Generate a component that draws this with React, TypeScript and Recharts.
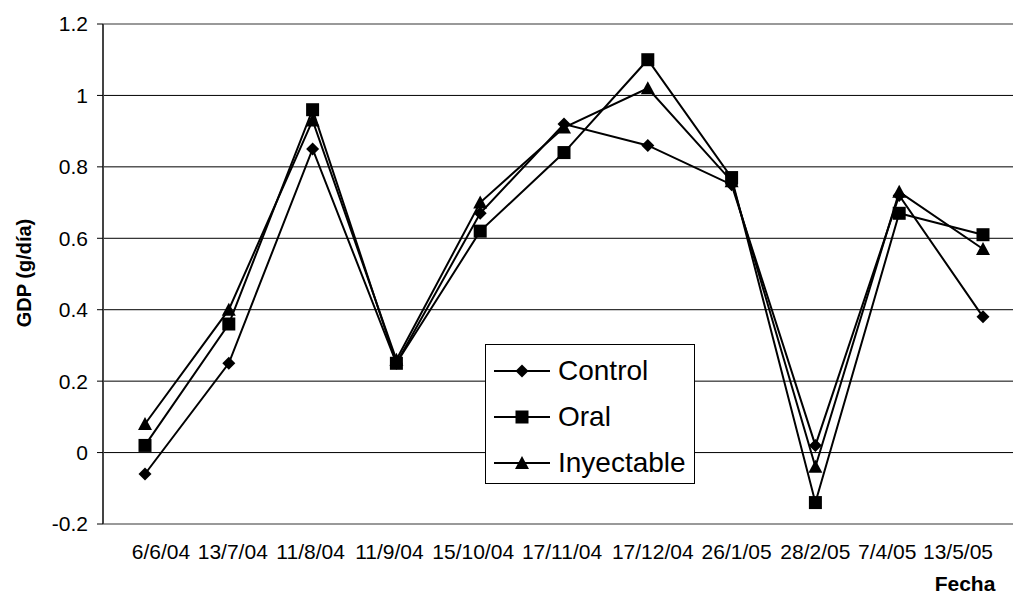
import { LineChart, Line, XAxis, YAxis, CartesianGrid, Legend, ReferenceLine, Label } from "recharts";

const fechas = [
  "6/6/04", "13/7/04", "11/8/04", "11/9/04", "15/10/04", "17/11/04",
  "17/12/04", "26/1/05", "28/2/05", "7/4/05", "13/5/05",
];
const control = [-0.06, 0.25, 0.85, 0.25, 0.67, 0.92, 0.86, 0.75, 0.02, 0.72, 0.38];
const oral = [0.02, 0.36, 0.96, 0.25, 0.62, 0.84, 1.1, 0.77, -0.14, 0.67, 0.61];
const inyectable = [0.08, 0.4, 0.93, 0.26, 0.7, 0.91, 1.02, 0.76, -0.04, 0.73, 0.57];
const yTicks = [-0.2, 0, 0.2, 0.4, 0.6, 0.8, 1, 1.2];

// Excel packed the date labels side by side, so they sit a little off their points
const tickNudge = [16, 4, -2, -7, -7, -2, 5, 5, 0, -12, -25];

const rows = fechas.map((f, i) => ({
  fecha: f,
  control: control[i],
  oral: oral[i],
  inyectable: inyectable[i],
}));

const FONT = "'Liberation Sans', Arial, sans-serif";

function Diamond({ cx, cy }: any) {
  if (cx == null || cy == null) return null;
  const r = 6.5;
  return <path d={`M${cx},${cy - r}L${cx + r},${cy}L${cx},${cy + r}L${cx - r},${cy}Z`} fill="#000" />;
}
function Square({ cx, cy }: any) {
  if (cx == null || cy == null) return null;
  return <rect x={cx - 6.5} y={cy - 6.5} width={13} height={13} fill="#000" />;
}
function Triangle({ cx, cy }: any) {
  if (cx == null || cy == null) return null;
  return <path d={`M${cx},${cy - 7}L${cx + 7},${cy + 6}L${cx - 7},${cy + 6}Z`} fill="#000" />;
}

function DateTick({ x, y, payload, index }: any) {
  return (
    <text x={x + (tickNudge[index] ?? 0)} y={y + 33} textAnchor="middle" fontSize={21} fill="#000" fontFamily={FONT}>
      {payload.value}
    </text>
  );
}

const legendItems = [
  { name: "Control", Mark: Diamond },
  { name: "Oral", Mark: Square },
  { name: "Inyectable", Mark: Triangle },
];

function LegendBox() {
  return (
    <div style={{ width: 208, height: 138, border: "1px solid #000", background: "#fff", fontFamily: FONT }}>
      {legendItems.map(({ name, Mark }, i) => (
        <div key={name} style={{ height: 46, display: "flex", alignItems: "center", marginTop: i === 0 ? 3 : 0 }}>
          <svg width={70} height={20} style={{ marginLeft: 8 }}>
            <line x1={0} y1={10} x2={56} y2={10} stroke="#000" strokeWidth={2} />
            <Mark cx={28} cy={10} />
          </svg>
          <span style={{ fontSize: 28, color: "#000", marginLeft: -6, lineHeight: 1 }}>{name}</span>
        </div>
      ))}
    </div>
  );
}

export default function App() {
  return (
    <div style={{ position: "absolute", left: 0, top: 0, width: 1013, height: 597, overflow: "hidden", background: "#fff" }}>
      <LineChart
        width={1025}
        height={597}
        data={rows}
        margin={{ top: 24, right: 0, bottom: 0, left: 0 }}
        style={{ fontFamily: FONT }}
      >
        <CartesianGrid vertical={false} stroke="#000" strokeWidth={1} />
        <ReferenceLine y={1.2} stroke="#999" strokeWidth={2} />
        <XAxis
          dataKey="fecha"
          height={73}
          padding={{ left: 42, right: 42 }}
          tickLine={false}
          tickSize={0}
          interval={0}
          axisLine={{ stroke: "#999", strokeWidth: 2 }}
          tick={<DateTick />}
        >
          <Label
            content={() => (
              <text x={965} y={591} textAnchor="middle" fontSize={21} fontWeight="bold" fill="#000" fontFamily={FONT}>
                Fecha
              </text>
            )}
          />
        </XAxis>
        <YAxis
          width={103}
          domain={[-0.2, 1.2]}
          ticks={yTicks}
          interval={0}
          tickSize={6}
          tickMargin={9}
          tickLine={{ stroke: "#000" }}
          axisLine={{ stroke: "#444", strokeWidth: 2 }}
          tick={{ fill: "#000", fontSize: 21 }}
          tickFormatter={(v: number) => String(v)}
        >
          <Label
            content={() => (
              <text
                x={24}
                y={273}
                transform="rotate(-90 24 273)"
                textAnchor="middle"
                dominantBaseline="central"
                fontSize={20}
                fontWeight="bold"
                fill="#000"
                fontFamily={FONT}
              >
                GDP (g/día)
              </text>
            )}
          />
        </YAxis>
        <Legend
          layout="horizontal"
          verticalAlign="middle"
          wrapperStyle={{ left: 485, top: 344, width: 210, height: 140 }}
          content={() => <LegendBox />}
        />
        <Line dataKey="control" name="Control" stroke="#000" strokeWidth={2} dot={<Diamond />} activeDot={false} isAnimationActive={false} />
        <Line dataKey="oral" name="Oral" stroke="#000" strokeWidth={2} dot={<Square />} activeDot={false} isAnimationActive={false} />
        <Line dataKey="inyectable" name="Inyectable" stroke="#000" strokeWidth={2} dot={<Triangle />} activeDot={false} isAnimationActive={false} />
      </LineChart>
    </div>
  );
}
